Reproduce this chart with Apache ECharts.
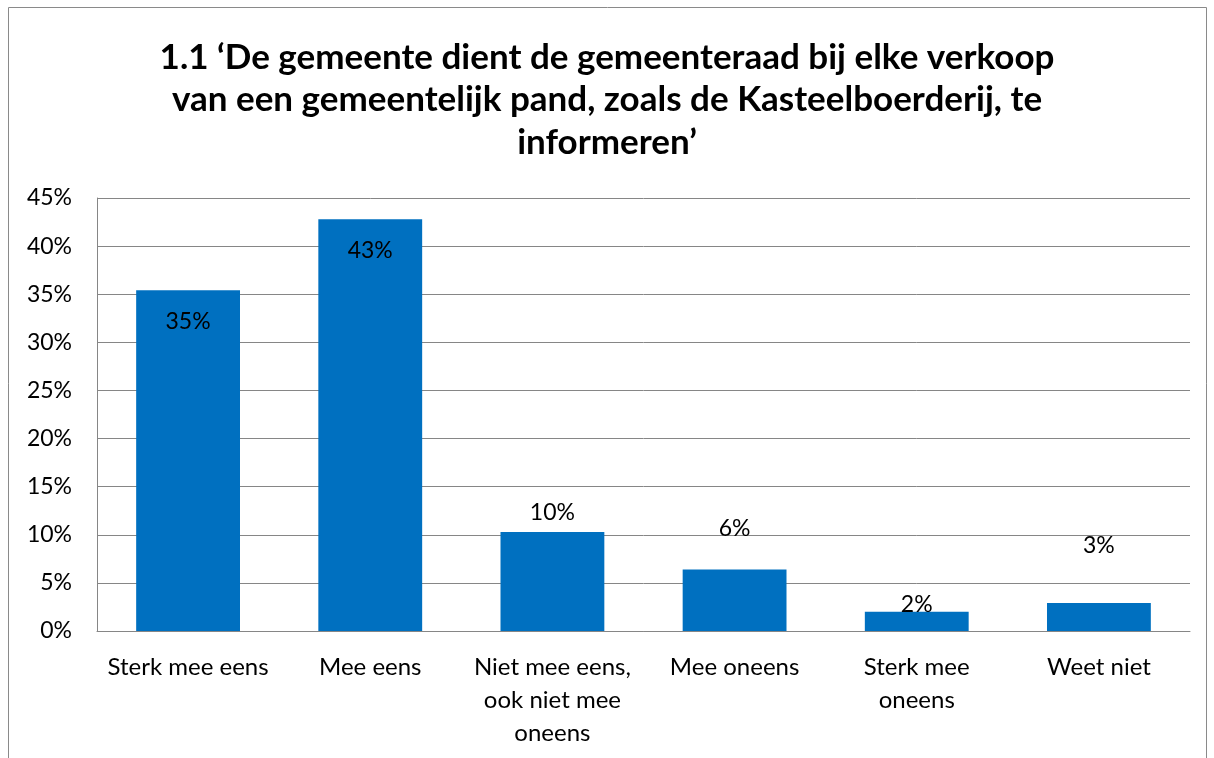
<!DOCTYPE html>
<html>
<head>
<meta charset="utf-8">
<script src="https://cdn.jsdelivr.net/npm/echarts@6/dist/echarts.min.js"></script>
<style>
  html, body { margin: 0; padding: 0; background: #fff; }
  #chart { width: 1214px; height: 758px; }
</style>
</head>
<body>
<div id="chart"></div>
<script>
const titleText = '1.1 \u2018De gemeente dient de gemeenteraad bij elke verkoop\nvan een gemeentelijk pand, zoals de Kasteelboerderij, te\ninformeren\u2019';
const categories = ['Sterk mee eens', 'Mee eens', 'Niet mee eens,\nook niet mee\noneens', 'Mee oneens', 'Sterk mee\noneens', 'Weet niet'];
const values = [35.4, 42.8, 10.3, 6.4, 2.0, 2.9];
const yTicks = { min: 0, max: 45, interval: 5 };

const FONT = 'Lato, "Open Sans", sans-serif';
const labelPlacement = [
  { position: 'insideTop', offset: [0, 15] },
  { position: 'insideTop', offset: [0, 15] },
  { position: 'top', offset: [0, -3] },
  { position: 'top', offset: [0, -24] },
  { position: 'top', offset: [0, 9] },
  { position: 'top', offset: [0, -41] }
];

const chart = echarts.init(document.getElementById('chart'), null, { renderer: 'canvas' });
chart.setOption({
  backgroundColor: '#ffffff',
  animation: false,
  title: {
    text: titleText,
    left: 'center',
    top: 31,
    textStyle: { fontFamily: FONT, fontSize: 35, fontWeight: 'bold', color: '#000', lineHeight: 42.5 }
  },
  graphic: [{
    type: 'rect',
    shape: { x: 8.5, y: 7.5, width: 1198, height: 800 },
    style: { fill: 'none', stroke: '#8a8a8a', lineWidth: 1 },
    silent: true
  }],
  grid: { left: 97, right: 24, top: 198, bottom: 127, containLabel: false },
  xAxis: {
    type: 'category',
    data: categories,
    axisLine: { show: true, lineStyle: { color: '#868686', width: 1 } },
    axisTick: { show: false },
    axisLabel: { interval: 0, color: '#000', fontFamily: FONT, fontSize: 24, lineHeight: 33, margin: 20 }
  },
  yAxis: {
    type: 'value',
    min: yTicks.min, max: yTicks.max, interval: yTicks.interval,
    axisLine: { show: true, lineStyle: { color: '#868686', width: 1 } },
    axisTick: { show: false },
    splitLine: { show: true, lineStyle: { color: '#868686', width: 1 } },
    axisLabel: { formatter: '{value}%', color: '#000', fontFamily: FONT, fontSize: 23, margin: 25 }
  },
  series: [{
    type: 'bar',
    data: values.map((v, i) => ({
      value: v,
      label: Object.assign({}, labelPlacement[i])
    })),
    barWidth: '57%',
    itemStyle: { color: '#0070C0' },
    label: {
      show: true,
      color: '#000',
      fontFamily: FONT,
      fontSize: 23,
      formatter: p => Math.round(p.value) + '%'
    }
  }]
});
</script>
</body>
</html>
